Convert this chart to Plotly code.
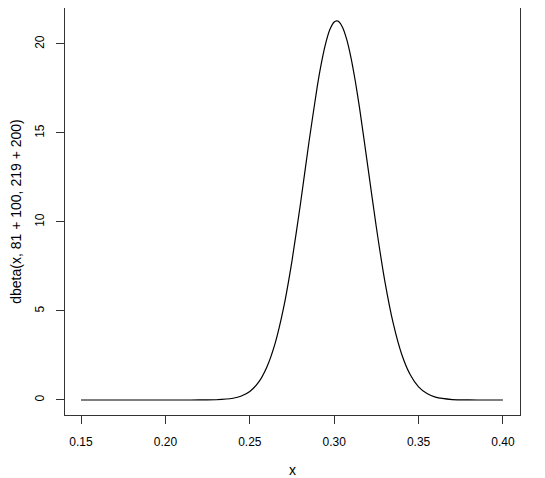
import plotly.graph_objects as go

# Values
x_vals = [0.15, 0.18, 0.20, 0.21, 0.22, 0.23, 0.24, 0.245, 0.25, 0.255, 0.26, 0.265,
          0.27, 0.275, 0.28, 0.285, 0.29, 0.2925, 0.295, 0.2975, 0.30, 0.3015, 0.3025,
          0.305, 0.3075, 0.31, 0.3125, 0.315, 0.32,
          0.325, 0.33, 0.335, 0.34, 0.345, 0.35, 0.355, 0.36, 0.37, 0.38, 0.39, 0.40]
y_vals = [0.0, 0.0, 0.0, 0.0002, 0.0016, 0.015, 0.096, 0.224, 0.48, 0.97, 1.83, 3.18,
          5.17, 7.82, 11.01, 14.45, 17.63, 18.97, 20.05, 20.82, 21.23, 21.30, 21.27,
          20.93, 20.23, 19.21, 17.92, 16.42, 13.07,
          9.69, 6.68, 4.30, 2.57, 1.43, 0.74, 0.36, 0.16, 0.026, 0.003, 0.0003, 0.0]

x_ticks = [0.15, 0.20, 0.25, 0.30, 0.35, 0.40]
x_tick_labels = ["0.15", "0.20", "0.25", "0.30", "0.35", "0.40"]
y_ticks = [0, 5, 10, 15, 20]
y_tick_labels = ["0", "5", "10", "15", "20"]

fig = go.Figure()
fig.add_trace(go.Scatter(x=x_vals, y=y_vals, mode="lines",
                         line=dict(color="black", width=1.2, shape="spline", smoothing=0.6),
                         hoverinfo="skip", showlegend=False))

font = dict(family="Liberation Sans, Arial, sans-serif", size=12, color="black")

fig.update_layout(
    template="none",
    width=537, height=470,
    margin=dict(l=57, r=25, t=0, b=63),
    paper_bgcolor="white", plot_bgcolor="white",
    font=font,
    xaxis=dict(range=[0.1405, 0.4101], tickvals=x_ticks, ticktext=x_tick_labels,
               automargin=False,
               ticks="outside", ticklen=8, tickcolor="#333", tickwidth=1,
               ticklabelstandoff=8,
               showline=True, linecolor="#333", linewidth=1, mirror=True,
               showgrid=False, zeroline=False,
               title=dict(text="x", standoff=19)),
    yaxis=dict(range=[-0.843, 22.02], tickvals=y_ticks, ticktext=y_tick_labels,
               automargin=False,
               tickangle=-90, ticklabelstandoff=7,
               ticks="outside", ticklen=8, tickcolor="#333", tickwidth=1,
               showline=True, linecolor="#333", linewidth=1, mirror=True,
               showgrid=False, zeroline=False,
               title=dict(text="dbeta(x, 81 + 100, 219 + 200)", standoff=17)),
)

fig.write_html("out.html")
